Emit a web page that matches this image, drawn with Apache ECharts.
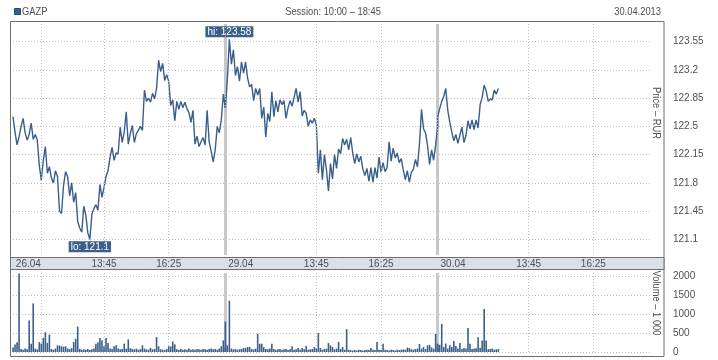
<!DOCTYPE html>
<html><head><meta charset="utf-8">
<script src="https://cdn.jsdelivr.net/npm/echarts@6/dist/echarts.min.js"></script>
<style>html,body{margin:0;padding:0;background:#fff}#c{width:718px;height:360px}</style>
</head><body><div id="c"></div>
<script>
// ---- data ----
const ticker = 'GAZP';
const sessionText = 'Session: 10:00 – 18:45';
const reportDate = '30.04.2013';
const priceAxisName = 'Price – RUR';
const volumeAxisName = 'Volume – 1 000';
const dayLabels = ['26.04', '29.04', '30.04'];
const timeLabels = ['13:45', '16:25'];
const sessionStart = '10:00';
const sessionEnd = '18:45';
const stepMinutes = 5;
const priceTicks = [121.1, 121.45, 121.8, 122.15, 122.5, 122.85, 123.2, 123.55];
const volumeTicks = [0, 500, 1000, 1500, 2000];

const day1Price = [122.62,122.43,122.27,122.37,122.50,122.60,122.42,122.33,122.40,122.54,
  122.34,122.40,122.33,122.02,121.83,122.08,122.25,121.92,122.00,121.86,
  121.80,121.95,121.88,121.45,121.42,121.77,121.94,121.88,121.64,121.80,
  121.56,121.68,121.32,121.24,121.19,121.51,121.40,121.18,121.10,121.41,
  121.48,121.53,121.46,121.78,121.62,121.74,121.88,121.95,122.12,122.24,
  122.08,122.17,122.16,122.49,122.30,122.43,122.68,122.28,122.41,122.51,
  122.30,122.41,122.45,122.50,122.45,122.95,122.81,122.85,122.80,122.91,
  122.84,122.97,123.32,123.18,123.28,123.07,123.14,123.06,122.76,122.83,
  122.57,122.81,122.71,122.81,122.73,122.80,122.72,122.67,122.55,122.70,
  122.28,122.38,122.25,122.31,122.36,122.27,122.70,122.31,122.19,122.06,
  122.21,122.50,122.42,122.58,122.90,122.73];
const day2Price = [122.72,123.08,123.58,123.27,123.45,123.13,123.24,123.06,123.30,123.16,
  123.30,123.10,122.99,123.02,122.82,122.97,122.89,122.97,122.60,122.74,
  122.37,122.66,122.56,122.93,122.62,122.82,122.68,122.83,122.77,122.82,
  122.60,122.73,122.82,122.75,122.86,122.97,122.80,122.93,122.63,122.70,
  122.66,122.50,122.58,122.54,122.60,122.52,121.92,122.21,121.84,122.15,
  121.96,121.70,122.04,121.85,122.15,121.98,122.22,122.16,122.35,122.27,
  122.34,122.21,122.36,122.17,122.04,122.16,122.06,122.13,121.97,121.89,
  121.98,121.82,121.99,121.81,121.99,121.86,122.12,121.93,122.05,121.94,
  121.99,122.31,122.07,122.23,122.11,122.17,122.05,122.10,121.96,121.84,
  121.95,121.81,121.93,121.97,122.09,122.00,122.28,122.71,122.47,122.42,
  122.26,122.03,122.21,122.08,122.27,122.50];
const day3Price = [122.62,122.72,122.81,122.87,122.97,122.70,122.55,122.43,122.32,122.40,
  122.29,122.39,122.49,122.30,122.39,122.57,122.47,122.58,122.46,122.58,
  122.48,122.77,122.86,123.01,122.94,122.81,122.84,122.83,122.95,122.90,122.97];

const day1Volume = [120,200,260,2070,80,60,90,70,830,220,
  1280,90,70,260,220,375,520,240,460,80,
  60,90,175,170,150,140,150,90,80,100,
  260,350,670,80,60,70,60,80,50,70,
  90,220,260,370,300,150,370,240,90,80,
  150,175,90,70,80,220,90,330,100,80,
  70,90,60,80,175,90,70,60,110,70,
  80,393,150,70,60,50,80,150,150,280,
  200,70,60,80,60,70,60,90,60,70,
  60,80,70,60,80,70,60,80,90,70,
  80,60,90,150,305,120];
const day2Volume = [800,175,1350,90,70,80,60,70,80,105,
  105,130,130,80,70,90,480,218,218,130,
  80,70,90,220,80,60,70,80,60,70,
  80,60,70,150,60,70,105,60,105,70,
  160,60,70,80,130,90,498,105,60,80,
  90,235,175,130,70,90,262,80,130,60,
  600,60,50,40,50,40,60,50,40,50,
  60,50,105,60,50,262,60,50,220,60,
  50,40,60,50,40,60,50,60,70,60,
  115,105,70,60,80,90,210,90,130,80,
  175,190,120,90,480,220];
const day3Volume = [175,190,740,130,220,90,175,130,290,160,
  90,236,80,105,90,630,220,80,90,100,
  390,105,305,1135,305,70,80,90,60,70,80];

// ---- build ----
function mins(s) { const p = s.split(':'); return +p[0] * 60 + +p[1]; }
const dayLen = mins(sessionEnd) - mins(sessionStart);
const priceDays = [day1Price, day2Price, day3Price];
const volDays = [day1Volume, day2Volume, day3Volume];
const priceData = [], volData = [];
priceDays.forEach((arr, d) => arr.forEach((v, i) => priceData.push([d * dayLen + i * stepMinutes, v])));
volDays.forEach((arr, d) => arr.forEach((v, i) => volData.push([d * dayLen + i * stepMinutes, v])));

const dateLabelOffset = 38;
const labelMap = {};
const labelVals = [];
const gridVals = [70];
const dayBreaks = [];
dayLabels.forEach((lab, d) => {
  const p = d * dayLen + dateLabelOffset;
  labelMap[p] = lab; labelVals.push(p);
  if (d > 0) { dayBreaks.push(d * dayLen); gridVals.push(d * dayLen); }
  timeLabels.forEach(t => {
    const q = d * dayLen + mins(t) - mins(sessionStart);
    labelMap[q] = t; labelVals.push(q); gridVals.push(q);
  });
});
gridVals.sort((a, b) => a - b);

const FONT = "'Liberation Sans', Arial, sans-serif";
const BLUE = '#3a5f8b';
const GRIDC = '#c0c0c0';
const TXT = '#505050';
const dotted = { color: GRIDC, width: 1, type: [1, 2] };
const hText = (text, x, y, align, extra) => Object.assign({ type: 'text', x: x, y: y, scaleX: 0.85,
  style: { text: text, fontFamily: FONT, fontSize: 11, fill: TXT, align: align, verticalAlign: 'middle' } }, extra || {});

const chart = echarts.init(document.getElementById('c'), null, { renderer: 'canvas' });
chart.setOption({
  animation: false,
  backgroundColor: '#fff',
  grid: [
    { left: 13, right: 68, top: 24, height: 231, outerBoundsMode: 'none' },
    { left: 13, right: 68, top: 273, height: 79, outerBoundsMode: 'none' }
  ],
  xAxis: [
    { type: 'value', gridIndex: 0, min: 0, max: dayLen * 3, z: 10,
      axisLine: { show: false },
      axisTick: { show: false, customValues: gridVals },
      splitLine: { show: true, lineStyle: dotted },
      axisLabel: { show: true, customValues: labelVals, margin: 9, verticalAlign: 'middle',
        fontFamily: FONT, fontSize: 10, color: TXT,
        formatter: v => labelMap[v] || '' } },
    { type: 'value', gridIndex: 1, min: 0, max: dayLen * 3,
      axisLine: { show: false },
      axisTick: { show: false, customValues: gridVals },
      splitLine: { show: true, lineStyle: dotted },
      axisLabel: { show: false } }
  ],
  yAxis: [
    { type: 'value', gridIndex: 0, position: 'right', min: 120.906, max: 123.769,
      axisLine: { show: false },
      axisTick: { show: false, customValues: priceTicks },
      splitLine: { show: true, lineStyle: dotted },
      axisLabel: { customValues: priceTicks, margin: 23, fontFamily: FONT, fontSize: 10, color: TXT,
        formatter: v => String(v) } },
    { type: 'value', gridIndex: 1, position: 'right', min: 0, max: 2080,
      axisLine: { show: false },
      axisTick: { show: false, customValues: volumeTicks },
      splitLine: { show: true, lineStyle: dotted },
      axisLabel: { customValues: volumeTicks, margin: 23, fontFamily: FONT, fontSize: 10, color: TXT,
        formatter: v => String(v) } }
  ],
  series: [
    { type: 'line', xAxisIndex: 0, yAxisIndex: 0, data: priceData,
      showSymbol: false, symbol: 'none', lineStyle: { color: BLUE, width: 1.4 }, z: 5,
      markLine: { silent: true, symbol: ['none', 'none'], label: { show: false },
        lineStyle: { color: '#c9c9c9', width: 3, type: 'solid' },
        data: dayBreaks.map(b => ({ xAxis: b })) },
      markPoint: { symbol: 'rect', symbolSize: 0, silent: true,
        data: [
          { type: 'max', name: 'hi', valueDim: 'y', label: { position: 'top', distance: 2 } },
          { type: 'min', name: 'lo', valueDim: 'y', label: { position: 'bottom', distance: 2 } }
        ],
        label: { show: true, color: '#fff', backgroundColor: BLUE, padding: [1, 2, 0, 2],
          fontFamily: FONT, fontSize: 10, lineHeight: 10,
          formatter: p => p.name + ': ' + p.value } } },
    { type: 'bar', xAxisIndex: 1, yAxisIndex: 1, data: volData, barWidth: 1.6,
      itemStyle: { color: BLUE }, z: 5,
      markLine: { silent: true, symbol: ['none', 'none'], label: { show: false },
        lineStyle: { color: '#c9c9c9', width: 3, type: 'solid' },
        data: dayBreaks.map(b => ({ xAxis: b })) } }
  ],
  graphic: [
    { type: 'rect', z: 0, shape: { x: 10.5, y: 21.5, width: 653.5, height: 335 },
      style: { fill: 'none', stroke: '#6e6e6e', lineWidth: 1 } },
    { type: 'rect', z: 0, shape: { x: 10.5, y: 257.5, width: 653.5, height: 12 },
      style: { fill: '#d9e0e8', stroke: '#6e6e6e', lineWidth: 1 } },
    { type: 'rect', shape: { x: 14.5, y: 8.5, width: 6, height: 6 },
      style: { fill: BLUE, stroke: '#2d4b70', lineWidth: 1 } },
    hText(ticker, 22, 12, 'left'),
    hText(sessionText, 333, 12, 'center'),
    hText(reportDate, 661, 12, 'right'),
    hText(priceAxisName, 656, 113, 'center', { rotation: -Math.PI / 2 }),
    hText(volumeAxisName, 656, 303, 'center', { rotation: -Math.PI / 2 })
  ]
});
</script></body></html>
